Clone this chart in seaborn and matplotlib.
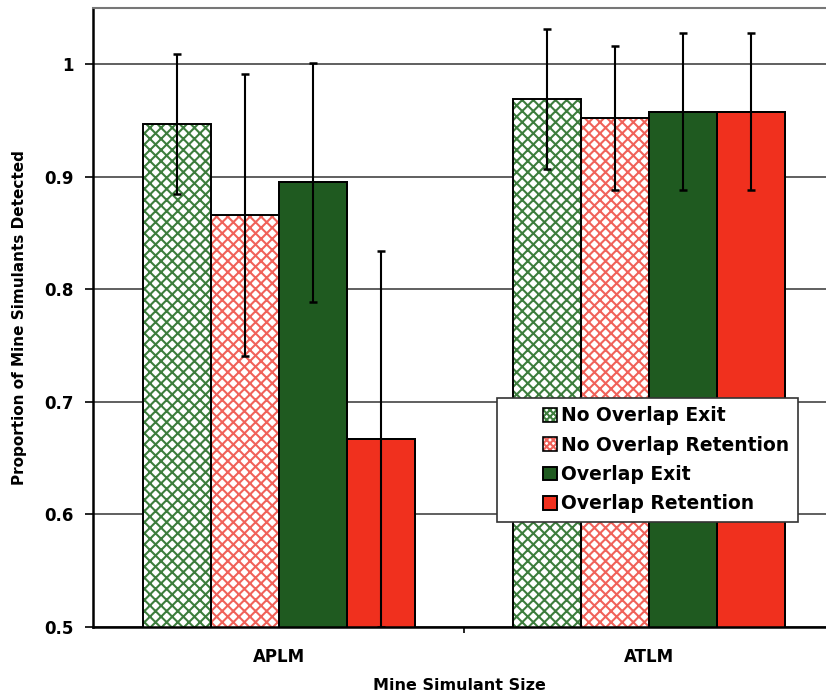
import numpy as np
import pandas as pd
import matplotlib
matplotlib.use("Agg")
import matplotlib.pyplot as plt
from matplotlib.patches import Rectangle
from matplotlib.legend_handler import HandlerPatch
import seaborn as sns

# Detection proportions by mine simulant size and lane condition
sizes = ["APLM", "ATLM"]
conditions = ["No Overlap Exit", "No Overlap Retention", "Overlap Exit", "Overlap Retention"]
aplm_values = [0.947, 0.866, 0.895, 0.667]
atlm_values = [0.969, 0.952, 0.958, 0.958]
aplm_errors = [0.062, 0.125, 0.106, 0.167]
atlm_errors = [0.062, 0.064, 0.070, 0.070]
y_ticks = [0.5, 0.6, 0.7, 0.8, 0.9, 1.0]
y_tick_labels = ["0.5", "0.6", "0.7", "0.8", "0.9", "1"]

df = pd.DataFrame({
    "size": np.repeat(sizes, len(conditions)),
    "condition": conditions * len(sizes),
    "value": aplm_values + atlm_values,
    "err": aplm_errors + atlm_errors,
})

sns.set_style("white")
plt.rcParams["font.family"] = ["DejaVu Sans"]
plt.rcParams["font.weight"] = "bold"
plt.rcParams["text.color"] = "black"
plt.rcParams["axes.labelcolor"] = "black"
plt.rcParams["xtick.color"] = "black"
plt.rcParams["ytick.color"] = "black"
plt.rcParams["hatch.linewidth"] = 1.5

fill_colors = {
    "No Overlap Exit": "white",
    "No Overlap Retention": "white",
    "Overlap Exit": "#1f5a20",
    "Overlap Retention": "#f0301e",
}
hatch_colors = {
    "No Overlap Exit": "#3d7d3d",
    "No Overlap Retention": "#f0625a",
}

fig = plt.figure(figsize=(8.26, 6.96), dpi=100)
ax = fig.add_axes([93 / 826, 69 / 696, 733 / 826, 619 / 696])

sns.barplot(data=df, x="size", y="value", hue="condition", order=sizes,
            hue_order=conditions, palette=fill_colors, saturation=1, width=0.735,
            gap=0, errorbar=None, legend=False, ax=ax, zorder=2)

legend_handles = []
for cond, container in zip(conditions, ax.containers):
    bars = sorted(container.patches, key=lambda b: b.get_x())
    sub = df[df["condition"] == cond].set_index("size").loc[sizes]
    for bar in bars:
        if cond in hatch_colors:
            bar.set_facecolor("white")
            bar.set_hatch("xxx")
            bar.set_edgecolor(hatch_colors[cond])
            bar.set_linewidth(0)
        else:
            bar.set_edgecolor("black")
            bar.set_linewidth(1.4)
        ax.add_patch(Rectangle(bar.get_xy(), bar.get_width(), bar.get_height(),
                               fill=False, edgecolor="black", linewidth=1.4, zorder=2.5))
    centers = [b.get_x() + b.get_width() / 2 for b in bars]
    ax.errorbar(centers, sub["value"].values, yerr=sub["err"].values, fmt="none",
                ecolor="black", elinewidth=1.5, capsize=3.2, capthick=1.8, zorder=3)
    if cond in hatch_colors:
        legend_handles.append(Rectangle((0, 0), 1, 1, facecolor="white", hatch="xxxxx",
                                        edgecolor=hatch_colors[cond], linewidth=0))
    else:
        legend_handles.append(Rectangle((0, 0), 1, 1, facecolor=fill_colors[cond],
                                        edgecolor="black", linewidth=1.2))


class SquareHandler(HandlerPatch):
    """Small square marker drawn at the right end of the handle box."""

    def create_artists(self, legend, orig_handle, xdescent, ydescent, width, height,
                       fontsize, trans):
        s = 10.0
        x0 = width - s - xdescent
        y0 = (height - s) / 2 - ydescent
        p = Rectangle((x0, y0), s, s)
        self.update_prop(p, orig_handle, legend)
        p.set_transform(trans)
        outline = Rectangle((x0, y0), s, s, fill=False, edgecolor="black",
                            linewidth=1.2, transform=trans)
        return [p, outline]


leg = fig.legend(legend_handles, conditions, loc="upper left",
                 bbox_to_anchor=(497 / 826, (696 - 398) / 696), borderaxespad=0,
                 handler_map={Rectangle: SquareHandler()},
                 prop={"size": 13.5, "weight": "bold"}, frameon=True, fancybox=False,
                 edgecolor="#333333", framealpha=1, handlelength=2.75, handletextpad=0.22,
                 labelspacing=0.55, borderpad=0.45)
leg.get_frame().set_linewidth(1.2)

ax.set_ylim(0.5, 1.05)
ax.set_xlim(-0.503, 1.478)
ax.set_yticks(y_ticks)
ax.set_yticklabels(y_tick_labels)
ax.yaxis.grid(True, color="#444444", linewidth=1.2, zorder=0)
ax.set_axisbelow(True)
ax.tick_params(axis="y", which="major", length=6, width=1.2, direction="out",
               labelsize=12, pad=8, left=True)
ax.set_xticks([0, 1])
ax.set_xticklabels(sizes)
ax.set_xticks([0.5], minor=True)
ax.tick_params(axis="x", which="major", length=0, labelsize=12, pad=15)
ax.tick_params(axis="x", which="minor", length=4, width=1.2, direction="out", bottom=True)

for side in ["left", "bottom"]:
    ax.spines[side].set_color("black")
    ax.spines[side].set_linewidth(1.8)
ax.spines["top"].set_color("#777777")
ax.spines["top"].set_linewidth(1.5)
ax.spines["right"].set_visible(False)

ax.set_xlabel("Mine Simulant Size", fontsize=11.5, fontweight="bold", labelpad=9)
ax.set_ylabel("Proportion of Mine Simulants Detected", fontsize=11, fontweight="bold",
              labelpad=12)

fig.savefig("out.png", dpi=100)
